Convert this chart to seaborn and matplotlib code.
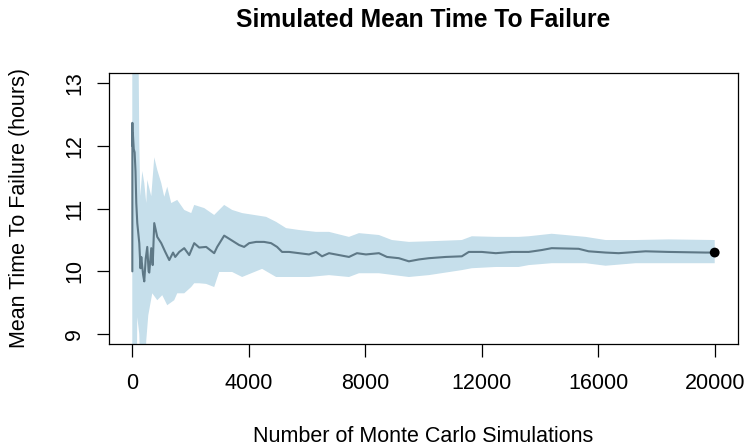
import numpy as np
import pandas as pd
import matplotlib
matplotlib.use("Agg")
import matplotlib.pyplot as plt
import seaborn as sns

# ---- data ----
mean_x = [1, 3, 8, 20, 50, 80, 110, 137, 171, 240, 280, 309, 370, 411, 460, 514,
          560, 583, 651, 700, 754, 857, 994, 1132, 1269, 1400, 1474, 1612, 1783,
          1955, 2126, 2297, 2537, 2812, 2915, 3155, 3395, 3669, 3840, 4012, 4252,
          4526, 4766, 4972, 5144, 5384, 5727, 6069, 6309, 6515, 6755, 7098, 7441,
          7715, 8024, 8470, 8744, 9155, 9498, 9841, 10184, 10767, 11316, 11556,
          12002, 12482, 13030, 13613, 14059, 14402, 15328, 15671, 16254, 16700,
          17625, 18414, 19683, 20000]
mean_y = [10.0, 12.37, 12.0, 12.2, 11.95, 11.9, 11.6, 11.09, 10.77, 10.45, 10.05,
          10.23, 9.95, 9.84, 10.2, 10.39, 10.0, 9.98, 10.37, 10.1, 10.77, 10.55,
          10.45, 10.31, 10.18, 10.3, 10.23, 10.31, 10.37, 10.26, 10.45, 10.38,
          10.39, 10.29, 10.39, 10.57, 10.5, 10.42, 10.39, 10.45, 10.47, 10.47,
          10.45, 10.39, 10.31, 10.31, 10.29, 10.27, 10.31, 10.24, 10.29, 10.26,
          10.23, 10.29, 10.27, 10.29, 10.23, 10.21, 10.16, 10.19, 10.21, 10.23,
          10.24, 10.31, 10.31, 10.29, 10.31, 10.31, 10.34, 10.37, 10.36, 10.32,
          10.30, 10.29, 10.32, 10.31, 10.30, 10.30]

upper_x = [0, 137, 206, 240, 274, 343, 411, 480, 514, 651, 754, 857, 994, 1097,
           1200, 1337, 1543, 1783, 2023, 2126, 2469, 2812, 3155, 3429, 3772, 4595,
           4938, 5281, 5727, 6309, 6755, 7441, 7784, 8470, 8915, 9498, 10184,
           11316, 11659, 12482, 13270, 13613, 14402, 15568, 16254, 17282, 18414,
           20000]
upper_y = [15.0, 15.0, 14.0, 12.06, 11.2, 11.6, 11.41, 11.09, 11.46, 11.2, 11.82,
           11.62, 11.41, 11.19, 11.35, 11.09, 11.14, 10.98, 10.93, 11.06, 11.01,
           10.90, 11.06, 10.98, 10.93, 10.87, 10.79, 10.69, 10.66, 10.63, 10.63,
           10.55, 10.61, 10.58, 10.50, 10.47, 10.48, 10.50, 10.56, 10.55, 10.55,
           10.56, 10.60, 10.55, 10.50, 10.50, 10.51, 10.50]

lower_x = [0, 137, 171, 240, 274, 446, 480, 549, 686, 857, 1029, 1200, 1440, 1543,
           1783, 2023, 2126, 2297, 2537, 2812, 2983, 3429, 3772, 4458, 4938, 6069,
           6755, 7441, 7784, 8470, 9498, 10184, 11316, 11659, 12482, 13270, 13613,
           14402, 15568, 16254, 17282, 20000]
lower_y = [7.5, 7.5, 9.27, 9.0, 8.5, 8.5, 8.9, 9.3, 9.65, 9.54, 9.62, 9.46, 9.54,
           9.65, 9.65, 9.75, 9.81, 9.81, 9.80, 9.75, 9.99, 9.99, 9.91, 10.04, 9.91,
           9.91, 9.94, 9.91, 9.97, 9.97, 9.91, 9.94, 10.02, 10.05, 10.07, 10.07,
           10.10, 10.13, 10.13, 10.09, 10.13, 10.13]

final_x = [20000]
final_y = [10.30]

x_ticks = [0, 4000, 8000, 12000, 16000, 20000]
y_ticks = [9, 10, 11, 12, 13]

title = "Simulated Mean Time To Failure"
xlabel = "Number of Monte Carlo Simulations"
ylabel = "Mean Time To Failure (hours)"

# ---- style ----
sns.set_theme(style="white")
plt.rcParams["font.family"] = ["Liberation Sans", "DejaVu Sans"]
plt.rcParams["text.color"] = "black"

W, H = 745, 446
fig = plt.figure(figsize=(W / 100, H / 100), dpi=100)
left, right, top, bottom = 109, 738, 72.7, 344.3
ax = fig.add_axes([left / W, 1 - bottom / H, (right - left) / W, (bottom - top) / H])

# ribbon
poly_x = list(upper_x) + list(lower_x[::-1])
poly_y = list(upper_y) + list(lower_y[::-1])
ax.fill(poly_x, poly_y, color="#C6DFEB", lw=0, zorder=1)

# mean line
df = pd.DataFrame({"n": mean_x, "mttf": mean_y})
sns.lineplot(data=df, x="n", y="mttf", ax=ax, color="#5E7886", lw=1.5, zorder=3)

# final point
dfp = pd.DataFrame({"n": final_x, "mttf": final_y})
sns.scatterplot(data=dfp, x="n", y="mttf", ax=ax, color="black", s=50,
                edgecolor="none", zorder=4)

ax.set_xlim(-800, 20800)
ax.set_ylim(8.836, 13.17)
ax.set_xticks(x_ticks)
ax.set_xticklabels([str(v) for v in x_ticks])
ax.set_yticks(y_ticks)
ax.set_yticklabels([str(v) for v in y_ticks], rotation=90, va="center")
ax.set_xlabel("")
ax.set_ylabel("")

for s in ax.spines.values():
    s.set_visible(True)
    s.set_color("black")
    s.set_linewidth(0.9)

ax.tick_params(axis="both", which="major", direction="out", length=9,
               width=0.9, color="black", labelsize=15.5, labelcolor="black",
               bottom=True, left=True)
ax.tick_params(axis="x", pad=12)
ax.tick_params(axis="y", pad=8)

fig.text((left + right) / 2 / W, 1 - 20 / H, title, ha="center", va="center",
         fontsize=17.7, fontweight="bold", color="black")
fig.text((left + right) / 2 / W, 1 - 437 / H, xlabel, ha="center", va="center",
         fontsize=15.5, color="black")
fig.text(20 / W, 1 - 208.5 / H, ylabel, ha="center", va="center",
         fontsize=15.5, rotation=90, color="black")

fig.savefig("out.png", dpi=100)
